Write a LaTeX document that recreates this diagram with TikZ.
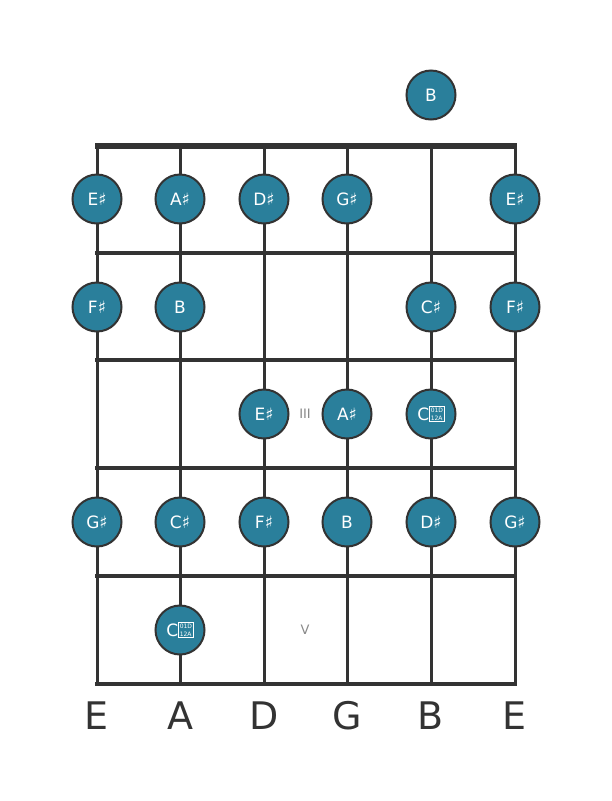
\documentclass[tikz,border=0pt]{standalone}
\usepackage{fontspec}
\setmainfont{DejaVu Sans}
\definecolor{dotfill}{HTML}{2A7F9B}
\definecolor{ink}{HTML}{333333}
\definecolor{marker}{HTML}{888888}
\tikzset{
  dot/.style={circle, draw=ink, line width=2pt, fill=dotfill, minimum size=49pt,
    inner sep=0pt, text=white, font=\fontsize{17}{17}\selectfont},
  fretmark/.style={text=marker, font=\fontsize{13}{13}\selectfont},
  stringname/.style={text=ink, font=\fontsize{38}{38}\selectfont}
}
\newcommand{\fretdot}[4]{
  \node [dot] (#1) at (#2,#3) {#4};
}
% missing double sharp glyph, drawn as the reference box
\newcommand{\dblsharp}{{\fboxsep=0.8pt\fboxrule=0.7pt
  \fbox{\vbox{\fontsize{6}{7.6}\selectfont\hbox{01D}\hbox{12A}}}}}
\begin{document}
\begin{tikzpicture}[x=1pt,y=-1pt]
\useasboundingbox (0,0) rectangle (611,801);
% strings
\foreach \x in {97,180,264,347,431,515}
  \draw [ink, line width=3pt] (\x,146) -- (\x,684);
% frets
\draw [ink, line width=6pt] (95,146) -- (517,146);
\foreach \y in {253,360,468,576,684}
  \draw [ink, line width=4pt] (95,\y) -- (517,\y);
% open string
\fretdot{open5}{431}{95}{B}
% fret 1
\fretdot{f1s1}{97}{199}{E♯}
\fretdot{f1s2}{180}{199}{A♯}
\fretdot{f1s3}{264}{199}{D♯}
\fretdot{f1s4}{347}{199}{G♯}
\fretdot{f1s6}{515}{199}{E♯}
% fret 2
\fretdot{f2s1}{97}{307}{F♯}
\fretdot{f2s2}{180}{307}{B}
\fretdot{f2s5}{431}{307}{C♯}
\fretdot{f2s6}{515}{307}{F♯}
% fret 3
\fretdot{f3s3}{264}{414}{E♯}
\fretdot{f3s4}{347}{414}{A♯}
\fretdot{f3s5}{431}{414}{C\dblsharp}
\node [fretmark] (mark3) at (305,414) {III};
% fret 4
\fretdot{f4s1}{97}{522}{G♯}
\fretdot{f4s2}{180}{522}{C♯}
\fretdot{f4s3}{264}{522}{F♯}
\fretdot{f4s4}{347}{522}{B}
\fretdot{f4s5}{431}{522}{D♯}
\fretdot{f4s6}{515}{522}{G♯}
% fret 5
\fretdot{f5s2}{180}{630}{C\dblsharp}
\node [fretmark] (mark5) at (305,630) {V};
% string names
\foreach \x/\n [count=\i] in {97/E,180/A,264/D,347/G,431/B,515/E}
  \node [stringname] (name\i) at (\x,716) {\n};
\end{tikzpicture}
\end{document}
